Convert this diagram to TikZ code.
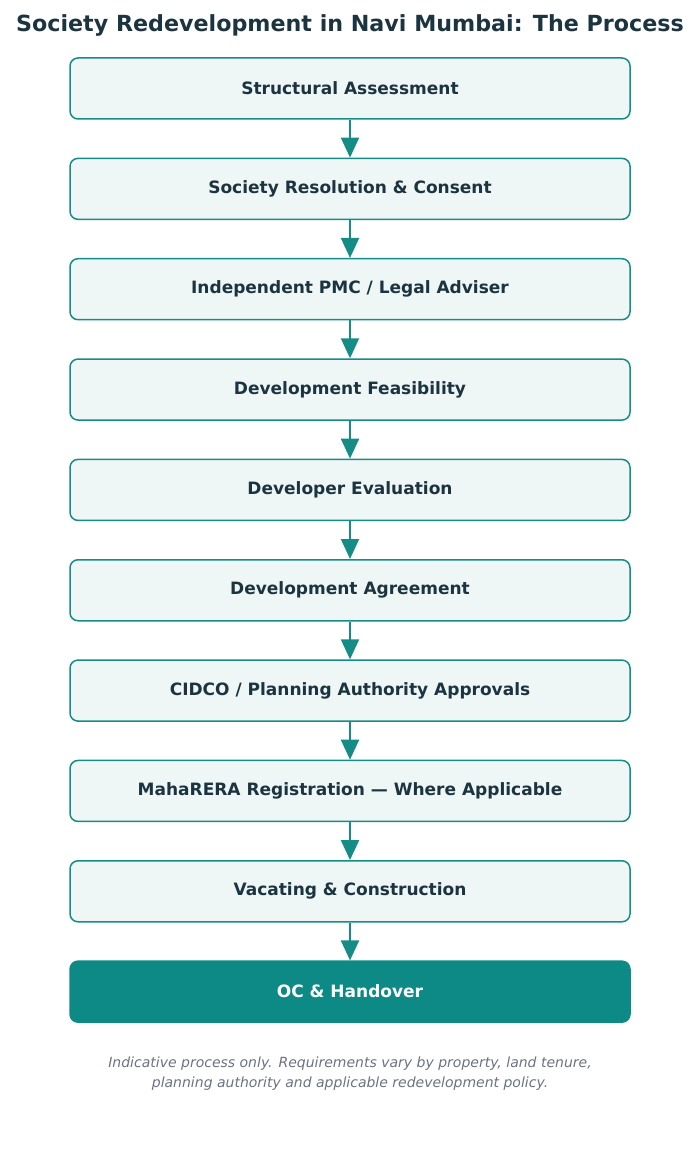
\documentclass[tikz,border=0pt]{standalone}
\usepackage{fontspec}
\setmainfont{DejaVu Sans}
\usetikzlibrary{math}
\usetikzlibrary{arrows.meta}
\usetikzlibrary{positioning}

\definecolor{tealline}{HTML}{168C87}
\definecolor{tealfill}{HTML}{EEF7F6}
\definecolor{tealdark}{HTML}{0E8A86}
\definecolor{inktext}{HTML}{1C3440}
\definecolor{notegray}{HTML}{6B7280}

\begin{document}
\begin{tikzpicture}[x=1pt, y=1pt]
\tikzset{
  base/.style={draw=tealline, line width=1.5pt, rounded corners=8pt, align=center,
    minimum width=560pt, minimum height=61pt, inner sep=0pt},
  stepbox/.style={base, fill=tealfill, text=inktext, font=\fontsize{17}{20}\selectfont\bfseries},
  endbox/.style={base, fill=tealdark, draw=tealdark, text=white, font=\fontsize{17}{20}\selectfont\bfseries},
  flow/.style={draw=tealline, line width=2pt, -{Triangle[width=18pt, length=20pt]}},
}

\useasboundingbox (0,0) rectangle (700,-1155);

\tikzmath{\d=100.35;}

\node [font=\fontsize{22.2}{26}\selectfont\bfseries, text=inktext] (title) at (350, -25.5) {Society Redevelopment in Navi Mumbai: The Process};

\node [stepbox] (s1) at (350, -88.5) {Structural Assessment};
\node [stepbox] (s2) at (350, {-88.5-\d}) {Society Resolution \& Consent};
\node [stepbox] (s3) at (350, {-88.5-2*\d}) {Independent PMC / Legal Adviser};
\node [stepbox] (s4) at (350, {-88.5-3*\d}) {Development Feasibility};
\node [stepbox] (s5) at (350, {-88.5-4*\d}) {Developer Evaluation};
\node [stepbox] (s6) at (350, {-88.5-5*\d}) {Development Agreement};
\node [stepbox] (s7) at (350, {-88.5-6*\d}) {CIDCO / Planning Authority Approvals};
\node [stepbox] (s8) at (350, {-88.5-7*\d}) {MahaRERA Registration — Where Applicable};
\node [stepbox] (s9) at (350, {-88.5-8*\d}) {Vacating \& Construction};
\node [endbox] (s10) at (350, {-88.5-9*\d}) {OC \& Handover};

\draw [flow] (s1) -- (s2);
\draw [flow] (s2) -- (s3);
\draw [flow] (s3) -- (s4);
\draw [flow] (s4) -- (s5);
\draw [flow] (s5) -- (s6);
\draw [flow] (s6) -- (s7);
\draw [flow] (s7) -- (s8);
\draw [flow] (s8) -- (s9);
\draw [flow] (s9) -- (s10);

\node [font=\fontsize{14}{20}\selectfont\itshape, text=notegray, align=center] (note) at (350, -1073.5)
  {Indicative process only. Requirements vary by property, land tenure,\\
   planning authority and applicable redevelopment policy.};
\end{tikzpicture}
\end{document}
